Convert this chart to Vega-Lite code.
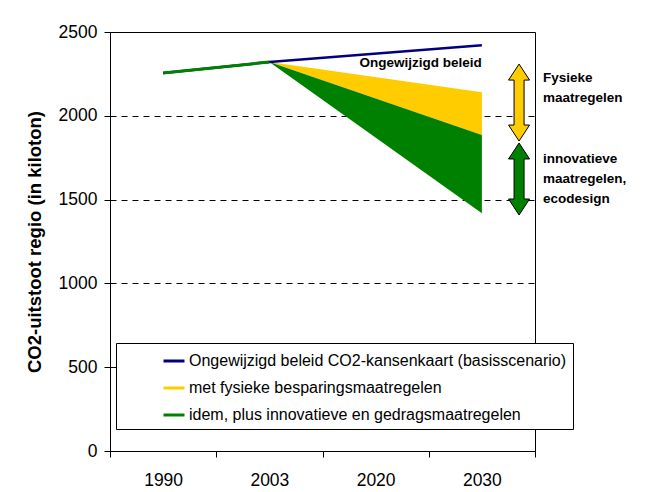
{
  "$schema": "https://vega.github.io/schema/vega-lite/v6.json",
  "width": 425,
  "height": 419,
  "autosize": {"type": "none"},
  "padding": {"left": 110, "top": 32, "right": 119, "bottom": 41},
  "background": "white",
  "config": {
    "font": "Liberation Sans",
    "view": {"stroke": "black", "strokeWidth": 1},
    "axis": {
      "labelFont": "Liberation Sans",
      "titleFont": "Liberation Sans",
      "labelColor": "black",
      "titleColor": "black",
      "domainColor": "black",
      "tickColor": "black",
      "domainWidth": 1,
      "tickWidth": 1
    }
  },
  "datasets": {
    "reeksen": [
      {"jaar": "1990", "serie": "Ongewijzigd beleid CO2-kansenkaart (basisscenario)", "waarde": 2255, "laag": "basis"},
      {"jaar": "2003", "serie": "Ongewijzigd beleid CO2-kansenkaart (basisscenario)", "waarde": 2321, "laag": "basis"},
      {"jaar": "2030", "serie": "Ongewijzigd beleid CO2-kansenkaart (basisscenario)", "waarde": 2421, "laag": "basis"},
      {"jaar": "2003", "serie": "met fysieke besparingsmaatregelen", "boven": 2321, "onder": 2321, "laag": "vlak"},
      {"jaar": "2030", "serie": "met fysieke besparingsmaatregelen", "boven": 2141, "onder": 1885, "laag": "vlak"},
      {"jaar": "2003", "serie": "idem, plus innovatieve en gedragsmaatregelen", "boven": 2321, "onder": 2321, "laag": "vlak"},
      {"jaar": "2030", "serie": "idem, plus innovatieve en gedragsmaatregelen", "boven": 1885, "onder": 1418, "laag": "vlak"},
      {"jaar": "1990", "serie": "idem, plus innovatieve en gedragsmaatregelen", "waarde": 2255, "laag": "historie"},
      {"jaar": "2003", "serie": "idem, plus innovatieve en gedragsmaatregelen", "waarde": 2321, "laag": "historie"}
    ],
    "pijlen": [
      {"jaar": "2030", "pijl": "fysiek", "midden": 2079},
      {"jaar": "2030", "pijl": "innovatief", "midden": 1623}
    ],
    "teksten": [
      {"jaar": "2030", "tekst": "Fysieke\nmaatregelen", "waarde": 2267},
      {"jaar": "2030", "tekst": "innovatieve\nmaatregelen,\necodesign", "waarde": 1784}
    ],
    "label": [
      {"jaar": "2030", "tekst": "Ongewijzigd beleid", "waarde": 2293}
    ]
  },
  "encoding": {
    "x": {
      "field": "jaar",
      "type": "ordinal",
      "title": null,
      "scale": {"type": "band", "domain": ["1990", "2003", "2020", "2030"], "paddingInner": 0, "paddingOuter": 0},
      "axis": {"tickBand": "extent", "labelFontSize": 17.5, "tickSize": 6, "labelPadding": 14, "labelAngle": 0, "grid": false}
    }
  },
  "layer": [
    {
      "data": {"name": "reeksen"},
      "transform": [{"filter": "datum.laag == 'vlak'"}],
      "mark": {"type": "area", "opacity": 1},
      "encoding": {
        "y": {
          "field": "boven",
          "type": "quantitative",
          "title": "CO2-uitstoot regio (in kiloton)",
          "scale": {"domain": [0, 2500], "nice": false},
          "axis": {
            "values": [0, 500, 1000, 1500, 2000, 2500],
            "format": "d",
            "grid": true,
            "gridDash": [6, 5],
            "gridColor": "black",
            "gridWidth": 1,
            "labelFontSize": 17.5,
            "tickSize": 6,
            "labelPadding": 7,
            "titleFontSize": 18.5,
            "titleFontWeight": "bold",
            "titlePadding": 14
          }
        },
        "y2": {"field": "onder"},
        "color": {
          "field": "serie",
          "type": "nominal",
          "scale": {
            "domain": ["Ongewijzigd beleid CO2-kansenkaart (basisscenario)", "met fysieke besparingsmaatregelen", "idem, plus innovatieve en gedragsmaatregelen"],
            "range": ["#000080", "#FFCC00", "#008000"]
          },
          "legend": {
            "orient": "none",
            "legendX": 6,
            "legendY": 311,
            "title": null,
            "symbolType": "stroke",
            "symbolSize": 441,
            "symbolStrokeWidth": 3,
            "labelFontSize": 16,
            "labelFont": "Liberation Sans",
            "labelColor": "black",
            "labelLimit": 500,
            "padding": 6,
            "symbolOffset": 40,
            "rowPadding": 7,
            "labelOffset": 3,
            "strokeColor": "black",
            "fillColor": "white",
            "encode": {
              "symbols": {
                "update": {
                  "stroke": {"scale": "color", "field": "value"},
                  "fill": {"value": "transparent"},
                  "strokeWidth": {"value": 3},
                  "opacity": {"value": 1}
                }
              }
            }
          }
        }
      }
    },
    {
      "data": {"name": "reeksen"},
      "transform": [{"filter": "datum.laag == 'basis'"}],
      "mark": {"type": "line", "strokeWidth": 2.5},
      "encoding": {
        "y": {"field": "waarde", "type": "quantitative", "title": "CO2-uitstoot regio (in kiloton)"},
        "color": {"field": "serie", "type": "nominal"}
      }
    },
    {
      "data": {"name": "reeksen"},
      "transform": [{"filter": "datum.laag == 'historie'"}],
      "mark": {"type": "line", "strokeWidth": 3},
      "encoding": {
        "y": {"field": "waarde", "type": "quantitative", "title": "CO2-uitstoot regio (in kiloton)"},
        "color": {"field": "serie", "type": "nominal"}
      }
    },
    {
      "data": {"name": "pijlen"},
      "transform": [{"filter": "datum.pijl == 'fysiek'"}],
      "mark": {
        "type": "point",
        "shape": "M0,-1L0.273,-0.584L0.13,-0.584L0.13,0.584L0.273,0.584L0,1L-0.273,0.584L-0.13,0.584L-0.13,-0.584L-0.273,-0.584Z",
        "size": 5929,
        "filled": true,
        "fill": "#FFCC00",
        "stroke": "black",
        "strokeWidth": 1,
        "opacity": 1
      },
      "encoding": {
        "x": {"field": "jaar", "type": "ordinal", "bandPosition": 0.85},
        "y": {"field": "midden", "type": "quantitative", "title": "CO2-uitstoot regio (in kiloton)"}
      }
    },
    {
      "data": {"name": "pijlen"},
      "transform": [{"filter": "datum.pijl == 'innovatief'"}],
      "mark": {
        "type": "point",
        "shape": "M0,-1L0.292,-0.556L0.139,-0.556L0.139,0.556L0.292,0.556L0,1L-0.292,0.556L-0.139,0.556L-0.139,-0.556L-0.292,-0.556Z",
        "size": 5184,
        "filled": true,
        "fill": "#008000",
        "stroke": "black",
        "strokeWidth": 1,
        "opacity": 1
      },
      "encoding": {
        "x": {"field": "jaar", "type": "ordinal", "bandPosition": 0.85},
        "y": {"field": "midden", "type": "quantitative", "title": "CO2-uitstoot regio (in kiloton)"}
      }
    },
    {
      "data": {"name": "teksten"},
      "mark": {
        "type": "text",
        "align": "left",
        "baseline": "top",
        "dx": 8,
        "lineBreak": "\n",
        "lineHeight": 20,
        "fontSize": 13.5,
        "fontWeight": "bold",
        "font": "Liberation Sans",
        "color": "black"
      },
      "encoding": {
        "x": {"field": "jaar", "type": "ordinal", "bandPosition": 1},
        "y": {"field": "waarde", "type": "quantitative", "title": "CO2-uitstoot regio (in kiloton)"},
        "text": {"field": "tekst"}
      }
    },
    {
      "data": {"name": "label"},
      "mark": {
        "type": "text",
        "align": "right",
        "baseline": "alphabetic",
        "fontSize": 13.5,
        "fontWeight": "bold",
        "font": "Liberation Sans",
        "color": "black"
      },
      "encoding": {
        "y": {"field": "waarde", "type": "quantitative", "title": "CO2-uitstoot regio (in kiloton)"},
        "text": {"field": "tekst"}
      }
    }
  ]
}
